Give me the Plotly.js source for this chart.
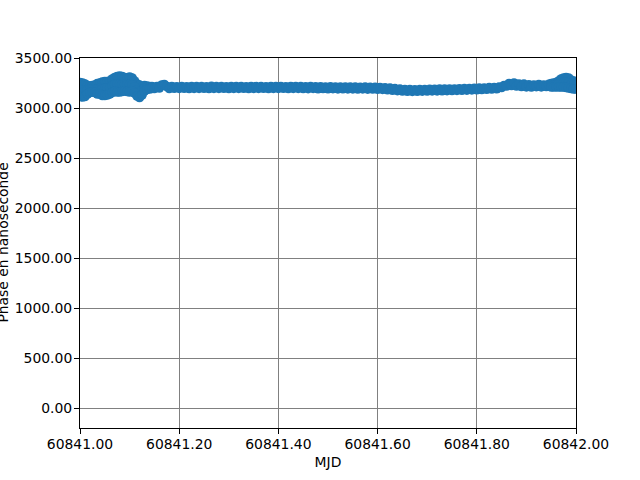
<!DOCTYPE html>
<html>
<head>
<meta charset="utf-8">
<script src="https://cdn.plot.ly/plotly-3.0.1.min.js"></script>
<style>html,body{margin:0;padding:0;background:#fff;}#chart{width:640px;height:480px;}</style>
</head>
<body>
<div id="chart"></div>
<script>
// Early, noisy part of the day: several measurements per time stamp (MJD)
const mjdEarly = [
  60841.000, 60841.005, 60841.010, 60841.015, 60841.020, 60841.025, 60841.030, 60841.035, 60841.040, 60841.045,
  60841.050, 60841.055, 60841.060, 60841.065, 60841.070, 60841.075, 60841.080, 60841.085, 60841.090, 60841.095,
  60841.100, 60841.105, 60841.110, 60841.115, 60841.120, 60841.125, 60841.130, 60841.135, 60841.140, 60841.145
];
const phaseEarlyHigh = [
  3255, 3250, 3240, 3225, 3220, 3225, 3230, 3245, 3250, 3260,
  3265, 3265, 3270, 3290, 3305, 3315, 3320, 3315, 3305, 3300,
  3310, 3300, 3270, 3240, 3230, 3210, 3225, 3220, 3215, 3215
];
const phaseEarlyMid = [
  3188, 3180, 3178, 3182, 3188, 3192, 3192, 3192, 3195, 3192,
  3195, 3198, 3205, 3222, 3235, 3238, 3240, 3240, 3238, 3232,
  3235, 3232, 3210, 3180, 3168, 3170, 3198, 3202, 3202, 3205
];
const phaseEarlyLow = [
  3120, 3110, 3115, 3140, 3155, 3160, 3155, 3140, 3140, 3125,
  3125, 3130, 3140, 3155, 3165, 3160, 3160, 3165, 3170, 3165,
  3160, 3165, 3150, 3120, 3105, 3130, 3170, 3185, 3190, 3195
];

// Quiet part of the day (MJD, phase in ns)
const mjdMain = [
  60841.150, 60841.155, 60841.160, 60841.165, 60841.170, 60841.175, 60841.180, 60841.185, 60841.190, 60841.195,
  60841.200, 60841.205, 60841.210, 60841.215, 60841.220, 60841.225, 60841.230, 60841.235, 60841.240, 60841.245,
  60841.250, 60841.255, 60841.260, 60841.265, 60841.270, 60841.275, 60841.280, 60841.285, 60841.290, 60841.295,
  60841.300, 60841.305, 60841.310, 60841.315, 60841.320, 60841.325, 60841.330, 60841.335, 60841.340, 60841.345,
  60841.350, 60841.355, 60841.360, 60841.365, 60841.370, 60841.375, 60841.380, 60841.385, 60841.390, 60841.395,
  60841.400, 60841.405, 60841.410, 60841.415, 60841.420, 60841.425, 60841.430, 60841.435, 60841.440, 60841.445,
  60841.450, 60841.455, 60841.460, 60841.465, 60841.470, 60841.475, 60841.480, 60841.485, 60841.490, 60841.495,
  60841.500, 60841.505, 60841.510, 60841.515, 60841.520, 60841.525, 60841.530, 60841.535, 60841.540, 60841.545,
  60841.550, 60841.555, 60841.560, 60841.565, 60841.570, 60841.575, 60841.580, 60841.585, 60841.590, 60841.595,
  60841.600, 60841.605, 60841.610, 60841.615, 60841.620, 60841.625, 60841.630, 60841.635, 60841.640, 60841.645,
  60841.650, 60841.655, 60841.660, 60841.665, 60841.670, 60841.675, 60841.680, 60841.685, 60841.690, 60841.695,
  60841.700, 60841.705, 60841.710, 60841.715, 60841.720, 60841.725, 60841.730, 60841.735, 60841.740, 60841.745,
  60841.750, 60841.755, 60841.760, 60841.765, 60841.770, 60841.775, 60841.780, 60841.785, 60841.790, 60841.795,
  60841.800, 60841.805, 60841.810, 60841.815, 60841.820, 60841.825, 60841.830, 60841.835, 60841.840, 60841.845,
  60841.850, 60841.855, 60841.860, 60841.865, 60841.870, 60841.875, 60841.880, 60841.885, 60841.890, 60841.895,
  60841.900, 60841.905, 60841.910, 60841.915, 60841.920, 60841.925, 60841.930, 60841.935, 60841.940, 60841.945
];
const phaseMain = [
  3195, 3215, 3200, 3230, 3235, 3215, 3195, 3215, 3198, 3212,
  3196, 3214, 3198, 3212, 3195, 3215, 3197, 3213, 3196, 3214,
  3198, 3212, 3195, 3216, 3197, 3213, 3196, 3214, 3198, 3212,
  3195, 3215, 3197, 3213, 3196, 3214, 3198, 3212, 3195, 3215,
  3197, 3213, 3196, 3214, 3198, 3212, 3195, 3215, 3197, 3213,
  3196, 3214, 3198, 3212, 3195, 3215, 3197, 3213, 3196, 3214,
  3195, 3212, 3194, 3213, 3196, 3211, 3193, 3212, 3195, 3210,
  3193, 3211, 3194, 3210, 3192, 3209, 3193, 3210, 3191, 3208,
  3192, 3209, 3190, 3207, 3191, 3208, 3189, 3206, 3190, 3207,
  3188, 3205, 3186, 3202, 3183, 3198, 3178, 3194, 3174, 3188,
  3170, 3185, 3168, 3183, 3167, 3182, 3168, 3184, 3169, 3185,
  3170, 3186, 3171, 3187, 3172, 3188, 3173, 3189, 3174, 3190,
  3175, 3190, 3176, 3192, 3178, 3193, 3179, 3195, 3181, 3196,
  3183, 3198, 3185, 3200, 3188, 3203, 3190, 3205, 3193, 3208,
  3205, 3225, 3220, 3245, 3225, 3250, 3220, 3240, 3215, 3238,
  3212, 3232, 3210, 3228, 3214, 3235, 3212, 3230, 3215, 3236
];

// Late, noisier part of the day
const mjdLate = [
  60841.950, 60841.955, 60841.960, 60841.965, 60841.970, 60841.975, 60841.980, 60841.985, 60841.990, 60841.995,
  60842.000
];
const phaseLateHigh = [3245, 3250, 3255, 3270, 3290, 3300, 3305, 3300, 3280, 3270, 3265];
const phaseLateMid  = [3228, 3230, 3233, 3240, 3250, 3255, 3255, 3250, 3238, 3230, 3228];
const phaseLateLow  = [3210, 3210, 3212, 3210, 3210, 3210, 3205, 3200, 3195, 3190, 3190];

const xTicks = [60841.0, 60841.2, 60841.4, 60841.6, 60841.8, 60842.0];
const yTicks = [0, 500, 1000, 1500, 2000, 2500, 3000, 3500];

const xs = [].concat(mjdEarly, mjdEarly, mjdEarly, mjdMain, mjdLate, mjdLate, mjdLate);
const ys = [].concat(phaseEarlyHigh, phaseEarlyMid, phaseEarlyLow, phaseMain,
                     phaseLateHigh, phaseLateMid, phaseLateLow);

const font = {family: 'DejaVu Sans, sans-serif', size: 13.9, color: '#000'};

const trace = {
  x: xs, y: ys, type: 'scatter', mode: 'markers',
  marker: {color: '#1f77b4', size: 9.7, line: {width: 0}},
  hoverinfo: 'skip', showlegend: false
};

const axisCommon = {
  showline: true, mirror: true, linecolor: '#000', linewidth: 1,
  ticks: 'outside', ticklen: 5, tickwidth: 1, tickcolor: '#000',
  showgrid: true, gridcolor: '#808080', gridwidth: 1,
  zeroline: false, tickfont: font, tickformat: '.2f', tickmode: 'array'
};

const layout = {
  width: 640, height: 480,
  margin: {l: 80, r: 64, t: 58, b: 52, pad: 0},
  paper_bgcolor: '#fff', plot_bgcolor: '#fff',
  font: font,
  xaxis: Object.assign({}, axisCommon, {
    range: [60841.0, 60842.0], tickvals: xTicks, ticklabelstandoff: -2,
    title: {text: 'MJD', font: font, standoff: 6}
  }),
  yaxis: Object.assign({}, axisCommon, {
    range: [-200, 3500], tickvals: yTicks, ticklabelstandoff: -1
  }),
  annotations: [{
    text: 'Phase en nanoseconde', xref: 'paper', yref: 'paper',
    x: -0.156, y: 0.5, xanchor: 'center', yanchor: 'middle',
    textangle: -90, showarrow: false, font: font
  }]
};

Plotly.newPlot('chart', [trace], layout, {staticPlot: true, displayModeBar: false});
</script>
</body>
</html>
